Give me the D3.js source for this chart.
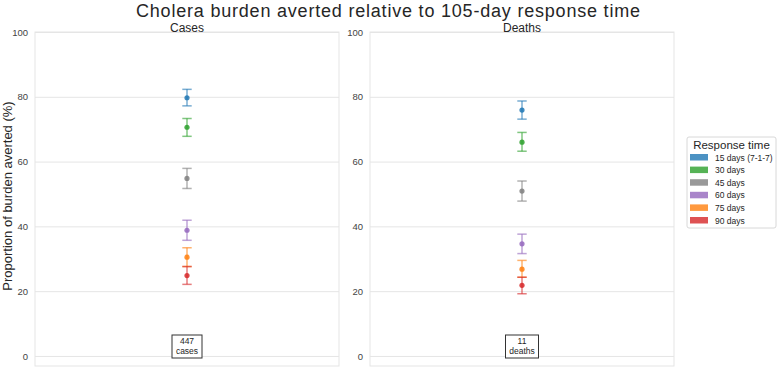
<!DOCTYPE html>
<html>
<head>
<meta charset="utf-8">
<script src="https://cdn.jsdelivr.net/npm/d3@7"></script>
<style>
  body { margin: 0; background: #fff; }
  text { font-family: "Liberation Sans", Arial, sans-serif; }
</style>
</head>
<body>
<svg width="777" height="367"></svg>
<script>
let width = 777;
let height = 367;

// data
let panels = ['Cases', 'Deaths'];
let groups = ['15 days (7-1-7)', '30 days', '45 days', '60 days', '75 days', '90 days'];
let colors = ['#1f77b4', '#2ca02c', '#7f7f7f', '#9467bd', '#ff7f0e', '#d62728'];
let casesMid = [79.7, 70.6, 54.8, 38.8, 30.5, 24.8];
let casesLow = [77.2, 67.8, 51.7, 35.7, 27.6, 22.1];
let casesHigh = [82.3, 73.3, 57.9, 41.9, 33.4, 27.6];
let deathsMid = [75.9, 66.0, 50.9, 34.6, 26.8, 21.8];
let deathsLow = [73.1, 63.2, 47.8, 31.6, 24.3, 19.2];
let deathsHigh = [78.7, 69.0, 54.0, 37.6, 29.5, 24.3];
let totals = [['447', 'cases'], ['11', 'deaths']];
let yTicks = [0, 20, 40, 60, 80, 100];

let svg = d3.select('svg');

// title
svg.append('text')
   .attr('x', 388).attr('y', 16.5)
   .attr('text-anchor', 'middle')
   .attr('font-size', 18)
   .attr('textLength', 504)
   .attr('lengthAdjust', 'spacing')
   .attr('fill', '#262626')
   .text('Cholera burden averted relative to 105-day response time');

// y label
svg.append('text')
   .attr('transform', 'translate(12,196) rotate(-90)')
   .attr('text-anchor', 'middle')
   .attr('font-size', 13)
   .attr('fill', '#262626')
   .text('Proportion of burden averted (%)');

let y = d3.scaleLinear().domain([-3.1, 100]).range([366, 32]);

let panelX = [35, 370];
let panelW = 304;
let series = [[casesMid, casesLow, casesHigh], [deathsMid, deathsLow, deathsHigh]];

panels.forEach(function(name, p) {
  let g = svg.append('g').attr('transform', 'translate(' + panelX[p] + ',0)');
  let x = d3.scaleBand().domain(['all']).range([0, panelW]);
  let cx = x('all') + x.bandwidth() / 2;

  // frame
  g.append('rect')
   .attr('x', 0).attr('y', y(100))
   .attr('width', panelW).attr('height', y.range()[0] - y(100))
   .attr('fill', 'none').attr('stroke', '#e5e5e5').attr('stroke-width', 1);

  // grid + ticks
  let axis = d3.axisLeft(y).tickValues(yTicks).tickSize(-panelW).tickPadding(7)
               .tickFormat(d3.format('d'));
  let ag = g.append('g').call(axis);
  ag.select('.domain').remove();
  ag.selectAll('.tick line').attr('stroke', '#e5e5e5');
  ag.selectAll('.tick text')
    .attr('font-family', '"DejaVu Sans Mono", monospace')
    .attr('font-size', 9.5)
    .attr('fill', '#444');

  // subtitle
  g.append('text')
   .attr('x', panelW / 2).attr('y', 31.5)
   .attr('text-anchor', 'middle')
   .attr('font-size', 12)
   .attr('fill', '#262626')
   .text(name);

  let mid = series[p][0], low = series[p][1], high = series[p][2];
  groups.forEach(function(gr, i) {
    let e = g.append('g');
    e.append('line')
     .attr('x1', cx).attr('x2', cx)
     .attr('y1', y(low[i])).attr('y2', y(high[i]))
     .attr('stroke', colors[i]).attr('stroke-opacity', 0.6).attr('stroke-width', 1.5);
    [low[i], high[i]].forEach(function(v) {
      e.append('line')
       .attr('x1', cx - 4.7).attr('x2', cx + 4.7)
       .attr('y1', y(v)).attr('y2', y(v))
       .attr('stroke', colors[i]).attr('stroke-opacity', 0.6).attr('stroke-width', 1.5);
    });
    e.append('circle')
     .attr('cx', cx).attr('cy', y(mid[i])).attr('r', 2.6)
     .attr('fill', colors[i]).attr('fill-opacity', 0.85);
  });

  // totals box
  let bw = p === 0 ? 30 : 33;
  g.append('rect')
   .attr('x', cx - bw / 2).attr('y', 335)
   .attr('width', bw).attr('height', 23)
   .attr('fill', '#fff').attr('stroke', '#333').attr('stroke-width', 1);
  totals[p].forEach(function(t, k) {
    g.append('text')
     .attr('x', cx).attr('y', 344 + k * 10)
     .attr('text-anchor', 'middle')
     .attr('font-size', 8.5)
     .attr('fill', '#262626')
     .text(t);
  });
});

// legend
let lg = svg.append('g').attr('transform', 'translate(687,137)');
lg.append('rect')
  .attr('x', 0).attr('y', 0).attr('width', 89).attr('height', 91)
  .attr('fill', '#fff').attr('stroke', '#d8d8d8').attr('rx', 2);
lg.append('text')
  .attr('x', 44.5).attr('y', 12)
  .attr('text-anchor', 'middle')
  .attr('font-size', 11.5)
  .attr('fill', '#262626')
  .text('Response time');
groups.forEach(function(gr, i) {
  lg.append('rect')
    .attr('x', 3).attr('y', 17 + i * 12.6)
    .attr('width', 18).attr('height', 6.5)
    .attr('fill', colors[i]).attr('fill-opacity', 0.8);
  lg.append('text')
    .attr('x', 28).attr('y', 23.5 + i * 12.6)
    .attr('font-size', 8.5)
    .attr('fill', '#262626')
    .text(gr);
});
</script>
</body>
</html>
